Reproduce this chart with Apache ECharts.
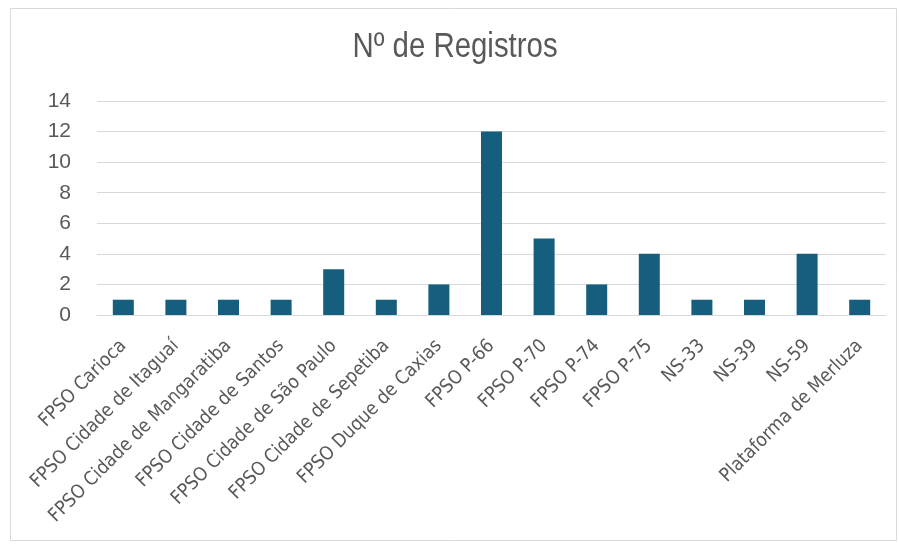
<!DOCTYPE html>
<html>
<head>
<meta charset="utf-8">
<script src="https://cdn.jsdelivr.net/npm/echarts@6/dist/echarts.min.js"></script>
<style>
html, body { margin: 0; padding: 0; background: #fff; }
#chart { width: 899px; height: 546px; }
</style>
</head>
<body>
<div id="chart"></div>
<script>
var categories = [
    'FPSO Carioca', 'FPSO Cidade de Itaguaí', 'FPSO Cidade de Mangaratiba',
    'FPSO Cidade de Santos', 'FPSO Cidade de São Paulo', 'FPSO Cidade de Sepetiba',
    'FPSO Duque de Caxias', 'FPSO P-66', 'FPSO P-70', 'FPSO P-74', 'FPSO P-75',
    'NS-33', 'NS-39', 'NS-59', 'Plataforma de Merluza'
];
var registros = [1, 1, 1, 1, 3, 1, 2, 12, 5, 2, 4, 1, 1, 4, 1];
var yTicks = [0, 2, 4, 6, 8, 10, 12, 14];
var titleText = 'Nº de Registros';

var textColor = '#595959';
var sans = '"Liberation Sans", Arial, sans-serif';
var narrow = '"DejaVu Sans Condensed", "Liberation Sans", sans-serif';

var option = {
    animation: false,
    graphic: [{
        type: 'rect',
        shape: { x: 10.5, y: 8.5, width: 886, height: 532 },
        style: { fill: 'none', stroke: '#d9d9d9', lineWidth: 1 },
        silent: true
    }, {
        // title drawn as a squeezed text so it looks like Arial Narrow
        type: 'text',
        x: 455,
        y: 47,
        scaleX: 0.84,
        style: {
            text: titleText,
            font: '35px ' + sans,
            fill: textColor,
            align: 'center',
            verticalAlign: 'middle'
        },
        silent: true
    }],
    grid: { left: 97, right: 13, top: 101, bottom: 231 },
    xAxis: {
        type: 'category',
        data: categories,
        axisTick: { show: false },
        axisLine: { lineStyle: { color: '#d9d9d9', width: 1 } },
        axisLabel: {
            rotate: 45,
            interval: 0,
            margin: 28,
            fontFamily: narrow,
            fontSize: 19,
            color: textColor
        }
    },
    yAxis: {
        type: 'value',
        min: yTicks[0],
        max: yTicks[yTicks.length - 1],
        interval: 2,
        axisLine: { show: false },
        axisTick: { show: false },
        splitLine: { lineStyle: { color: '#d9d9d9', width: 1 } },
        axisLabel: { fontFamily: sans, fontSize: 21, color: textColor, margin: 26 }
    },
    series: [{
        name: titleText,
        type: 'bar',
        data: registros,
        barWidth: 21,
        itemStyle: { color: '#155e7e' }
    }]
};

echarts.init(document.getElementById('chart')).setOption(option);
</script>
</body>
</html>
